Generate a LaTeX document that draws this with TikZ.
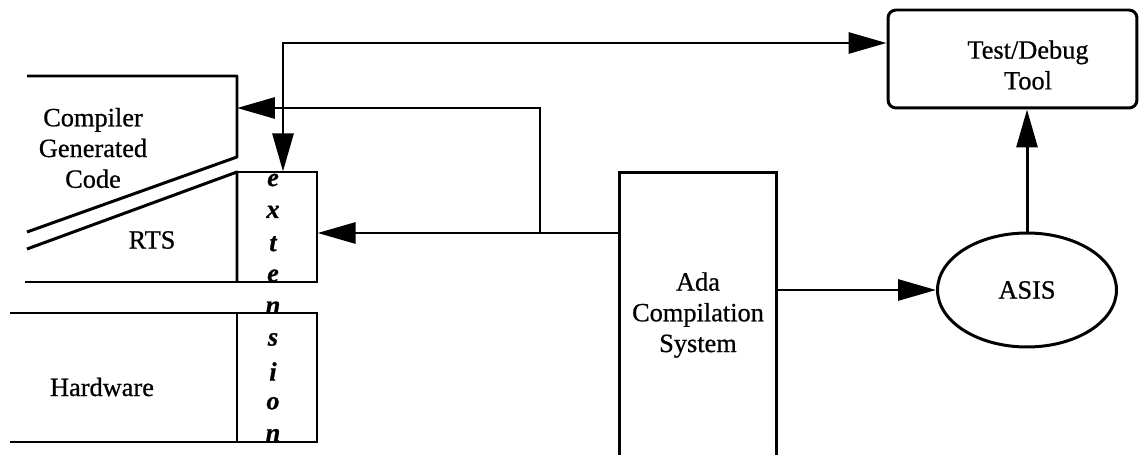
\documentclass[tikz,border=0pt]{standalone}
\usepackage{fontspec}
\setmainfont{Liberation Serif}[FakeBold=0.7]
\usetikzlibrary{arrows.meta,shapes.geometric}

\begin{document}
\begin{tikzpicture}[x=0.02cm,y=-0.02cm,inner sep=0pt,
  font=\fontsize{15}{17.5}\selectfont,
  wall/.style={line width=1.7pt,line join=round},
  extbox/.style={rectangle,draw=black,line width=0.7pt,minimum width=1.6cm},
  link/.style={line width=1.7pt,-{Triangle[length=0.76cm,width=0.42cm]}},
  letter/.style={font=\fontsize{15}{17}\selectfont\bfseries\itshape}]

\useasboundingbox (0,0) rectangle (1140,455);
\clip (0,0) rectangle (1140,455);

% extension boxes beside RTS and hardware
\node[extbox,minimum height=2.2cm] (ext1) at (277,227) {};
\node[extbox,minimum height=2.58cm] (ext2) at (277,377.5) {};

% compiler generated code, RTS and hardware layers
\draw[wall] (27,76) -- (237,76) -- (237,157) -- (27,232);
\draw[wall] (27,249) -- (237,172) -- (237,282);
\draw[wall] (25,282) -- (237,282);
\draw[wall] (10,313) -- (237,313) -- (237,442);
\draw[wall] (10,442) -- (237,442);
\coordinate (cgc) at (237,108);

\node[align=center] (cgctext) at (93,148) {Compiler\\Generated\\Code};
\node (rts) at (152,240) {RTS};
\node (hw) at (102,387) {Hardware};

\foreach \l [count=\i from 0] in {e,x,t,e,n,s,i,o,n}
  \node[letter] (l\i) at (273,180+31.9*\i) {\l};

% tools
\node[rectangle,draw=black,line width=1.7pt,minimum width=3.16cm,minimum height=5.72cm,align=center] (ada) at (698,315) {Ada\\Compilation\\System};
\node[ellipse,draw=black,line width=1.7pt,minimum width=3.58cm,minimum height=2.28cm] (asis) at (1027,290) {ASIS};
\node[rectangle,rounded corners=0.16cm,draw=black,line width=1.7pt,minimum width=4.98cm,minimum height=1.96cm] (tdbg) at (1012.5,59) {};
\node[align=center] (tdbgtext) at (1028,65) {Test/Debug\\Tool};

% connections
\coordinate (split) at (540,233);
\draw[link] (split -| ada.west) -- (split -| ext1.east);
\draw[link] (split) |- (cgc);
\draw[link,{Triangle[length=0.76cm,width=0.42cm]}-{Triangle[length=0.76cm,width=0.42cm]}]
  ([xshift=0.12cm]ext1.north) |- ([yshift=0.32cm]tdbg.west);
\draw[link] (ada.east |- asis.west) -- (asis.west);
\draw[link] (asis.north) -- (asis.north |- tdbg.south);

\end{tikzpicture}
\end{document}
